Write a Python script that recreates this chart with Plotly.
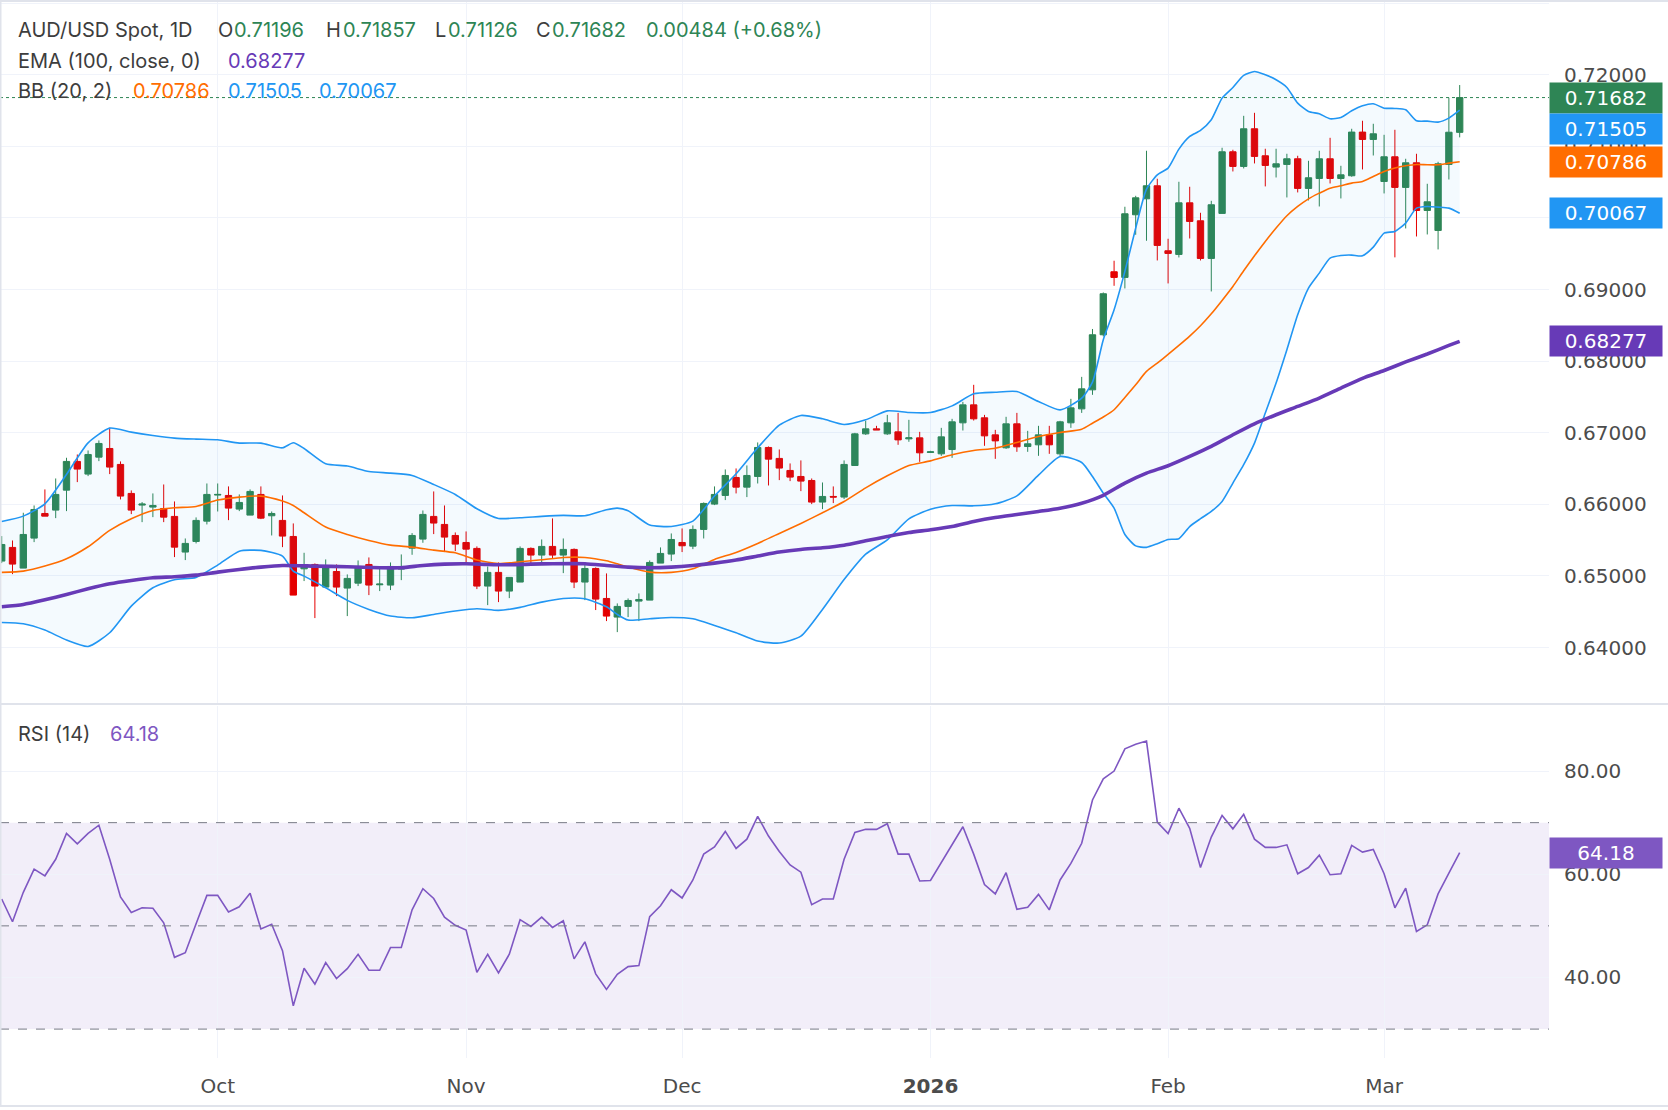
import plotly.graph_objects as go
import pandas as pd

# ---------------- data ----------------
start_date = "2025-09-03"
n_bars = 136
dates = [d.strftime("%Y-%m-%d") for d in pd.bdate_range(start_date, periods=n_bars)]

open_ = [0.65208, 0.65399, 0.65110, 0.65529, 0.65873, 0.65920, 0.66199, 0.66600, 0.66423, 0.66660,
         0.66781, 0.66558, 0.66153, 0.65990, 0.65962, 0.65943, 0.65832, 0.65334, 0.65482, 0.65766,
         0.66130, 0.66125, 0.65934, 0.65850, 0.66139, 0.65841, 0.65776, 0.65552, 0.65100, 0.65161,
         0.64845, 0.65063, 0.64831, 0.64900, 0.65161, 0.64877, 0.64873, 0.65096, 0.65389, 0.65515,
         0.65832, 0.65720, 0.65566, 0.65468, 0.65385, 0.64859, 0.65050, 0.64789, 0.64915, 0.65385,
         0.65292, 0.65413, 0.65292, 0.65371, 0.64915, 0.65105, 0.64686, 0.64426, 0.64575, 0.64649,
         0.64663, 0.65180, 0.65306, 0.65468, 0.65417, 0.65650, 0.66004, 0.66125, 0.66376, 0.66241,
         0.66390, 0.66795, 0.66642, 0.66474, 0.66390, 0.66334, 0.66032, 0.66111, 0.66102, 0.66543,
         0.66985, 0.67055, 0.66985, 0.67013, 0.66915, 0.66929, 0.66725, 0.66706, 0.66766, 0.67139,
         0.67390, 0.67209, 0.66971, 0.66790, 0.67125, 0.66808, 0.66832, 0.66971, 0.66706, 0.67139,
         0.67334, 0.67600, 0.68369, 0.69249, 0.69170, 0.70045, 0.70268, 0.70450, 0.69542, 0.69491,
         0.70212, 0.69961, 0.69435, 0.70064, 0.70925, 0.70720, 0.71246, 0.70869, 0.70711, 0.70748,
         0.70827, 0.70413, 0.70552, 0.70827, 0.70552, 0.70590, 0.71200, 0.71097, 0.70510, 0.70855,
         0.70427, 0.70771, 0.70105, 0.69826, 0.70748, 0.71196]
high = [0.65557, 0.65496, 0.65883, 0.65985, 0.66209, 0.66362, 0.66651, 0.66697, 0.66753, 0.66893,
        0.67070, 0.66600, 0.66195, 0.66032, 0.66153, 0.66278, 0.66041, 0.65524, 0.65818, 0.66292,
        0.66292, 0.66251, 0.66139, 0.66209, 0.66251, 0.65901, 0.66125, 0.65734, 0.65324, 0.65175,
        0.65231, 0.65161, 0.65022, 0.65217, 0.65259, 0.65119, 0.65189, 0.65301, 0.65599, 0.65915,
        0.66181, 0.65985, 0.65608, 0.65622, 0.65413, 0.65133, 0.65189, 0.64980, 0.65413, 0.65399,
        0.65510, 0.65804, 0.65524, 0.65385, 0.65189, 0.65120, 0.65036, 0.64617, 0.64686, 0.64756,
        0.65217, 0.65399, 0.65594, 0.65664, 0.65706, 0.66027, 0.66251, 0.66488, 0.66502, 0.66544,
        0.66865, 0.66809, 0.66767, 0.66572, 0.66614, 0.66362, 0.66306, 0.66251, 0.66614, 0.66999,
        0.67167, 0.67097, 0.67250, 0.67278, 0.67181, 0.67013, 0.66748, 0.67069, 0.67195, 0.67432,
        0.67670, 0.67250, 0.67041, 0.67223, 0.67278, 0.67027, 0.67097, 0.67097, 0.67167, 0.67474,
        0.67781, 0.68450, 0.68960, 0.69403, 0.70157, 0.70310, 0.70939, 0.70548, 0.69710, 0.70506,
        0.70436, 0.70073, 0.70240, 0.70981, 0.70953, 0.71427, 0.71469, 0.70967, 0.70967, 0.70897,
        0.70869, 0.70799, 0.70939, 0.71120, 0.70729, 0.71246, 0.71358, 0.71316, 0.71162, 0.71232,
        0.70827, 0.70897, 0.70478, 0.70785, 0.71679, 0.71857]
low = [0.65180, 0.65026, 0.65110, 0.65473, 0.65836, 0.65808, 0.65906, 0.66311, 0.66395, 0.66604,
       0.66423, 0.66069, 0.65864, 0.65752, 0.65822, 0.65752, 0.65264, 0.65222, 0.65455, 0.65720,
       0.65901, 0.65780, 0.65906, 0.65850, 0.65794, 0.65566, 0.65403, 0.64733, 0.64929, 0.64412,
       0.64835, 0.64719, 0.64440, 0.64859, 0.64733, 0.64789, 0.64803, 0.64942, 0.65296, 0.65464,
       0.65585, 0.65334, 0.65347, 0.65184, 0.64817, 0.64593, 0.64635, 0.64691, 0.64915, 0.65152,
       0.65166, 0.65250, 0.65040, 0.64831, 0.64663, 0.64524, 0.64370, 0.64216, 0.64426, 0.64370,
       0.64663, 0.65180, 0.65208, 0.65334, 0.65375, 0.65524, 0.65990, 0.66060, 0.66153, 0.66102,
       0.66292, 0.66264, 0.66339, 0.66325, 0.66185, 0.66004, 0.65934, 0.66018, 0.66074, 0.66543,
       0.66971, 0.67041, 0.66971, 0.66832, 0.66874, 0.66594, 0.66720, 0.66678, 0.66650, 0.67032,
       0.67171, 0.66818, 0.66636, 0.66776, 0.66734, 0.66734, 0.66678, 0.66706, 0.66664, 0.67069,
       0.67278, 0.67530, 0.68346, 0.69053, 0.69016, 0.69766, 0.69682, 0.69407, 0.69086, 0.69449,
       0.69714, 0.69407, 0.68974, 0.70064, 0.70650, 0.70692, 0.70762, 0.70441, 0.70566, 0.70287,
       0.70357, 0.70245, 0.70161, 0.70482, 0.70273, 0.70576, 0.70678, 0.70873, 0.70343, 0.69450,
       0.69854, 0.69742, 0.69770, 0.69561, 0.70538, 0.71126]
close = [0.65440, 0.65166, 0.65580, 0.65929, 0.65836, 0.66139, 0.66600, 0.66493, 0.66697, 0.66851,
         0.66521, 0.66116, 0.65920, 0.66004, 0.65985, 0.65822, 0.65403, 0.65455, 0.65776, 0.66139,
         0.66139, 0.65948, 0.66027, 0.66181, 0.65808, 0.65873, 0.65557, 0.64733, 0.65152, 0.64859,
         0.65115, 0.64845, 0.64966, 0.65133, 0.64873, 0.64887, 0.65133, 0.65133, 0.65566, 0.65860,
         0.65739, 0.65543, 0.65445, 0.65375, 0.64859, 0.65050, 0.64789, 0.64980, 0.65385, 0.65292,
         0.65413, 0.65292, 0.65371, 0.64915, 0.65105, 0.64677, 0.64440, 0.64575, 0.64658, 0.64672,
         0.65189, 0.65315, 0.65510, 0.65422, 0.65650, 0.66013, 0.66139, 0.66404, 0.66241, 0.66404,
         0.66795, 0.66632, 0.66507, 0.66381, 0.66325, 0.66032, 0.66111, 0.66102, 0.66558, 0.66985,
         0.67055, 0.67041, 0.67139, 0.66901, 0.66929, 0.66720, 0.66734, 0.66943, 0.67153, 0.67390,
         0.67195, 0.66957, 0.66887, 0.67125, 0.66804, 0.66846, 0.66971, 0.66832, 0.67153, 0.67348,
         0.67614, 0.68369, 0.68942, 0.69170, 0.70059, 0.70282, 0.70450, 0.69617, 0.69505, 0.70212,
         0.69952, 0.69435, 0.70185, 0.70925, 0.70720, 0.71246, 0.70860, 0.70734, 0.70757, 0.70827,
         0.70413, 0.70562, 0.70827, 0.70552, 0.70603, 0.71200, 0.71097, 0.71176, 0.70855, 0.70427,
         0.70771, 0.70105, 0.70226, 0.70757, 0.71198, 0.71682]

rsi = [55.2, 50.8, 56.5, 61.0, 59.7, 62.9, 67.9, 65.9, 67.9, 69.5,
       62.9, 55.6, 52.6, 53.5, 53.4, 50.6, 43.9, 44.8, 50.4, 55.9,
       55.9, 52.7, 53.7, 56.3, 49.4, 50.3, 45.2, 34.5, 41.8, 38.7,
       42.9, 39.8, 41.7, 44.5, 41.4, 41.4, 45.8, 45.8, 53.1, 57.2,
       55.3, 51.7, 50.1, 49.2, 41.0, 44.5, 40.9, 44.5, 51.2, 49.9,
       51.7, 49.7, 51.0, 43.6, 46.9, 40.7, 37.7, 40.6, 42.1, 42.3,
       51.8, 53.9, 57.0, 55.4, 58.9, 63.9, 65.3, 68.3, 65.0, 66.8,
       71.2, 67.4, 64.4, 61.8, 60.4, 54.1, 55.2, 55.2, 62.9, 68.1,
       68.7, 68.7, 69.8, 63.9, 63.9, 58.7, 58.8, 62.3, 65.7, 69.2,
       63.9, 58.0, 56.2, 60.3, 53.2, 53.6, 56.1, 53.1, 58.9, 62.1,
       66.0, 74.4, 78.5, 80.0, 84.3, 85.2, 85.8, 70.1, 67.9, 72.8,
       68.9, 61.3, 67.2, 71.4, 68.8, 71.6, 66.8, 65.2, 65.2, 65.7,
       60.1, 61.3, 63.7, 59.9, 60.1, 65.6, 64.3, 64.8, 60.1, 53.5,
       57.3, 48.9, 50.2, 56.2, 60.2, 64.18]

# Bollinger bands (20, 2) read at these bar numbers (1 = first bar)
bb_bars = [1, 3, 5, 7, 9, 11, 13, 15, 17, 19, 21, 23, 25, 27, 28, 29, 31, 33, 35, 37,
           39, 41, 43, 45, 47, 49, 51, 53, 55, 57, 58, 59, 61, 63, 65, 67, 69, 71, 73, 75,
           77, 79, 81, 83, 85, 87, 89, 91, 93, 95, 97, 99, 101, 102, 103, 104, 105, 106, 107, 108,
           109, 110, 111, 112, 113, 114, 115, 116, 117, 118, 119, 120, 121, 122, 123, 124, 125, 126, 127, 128,
           129, 130, 131, 132, 133, 134, 135, 136]
bb_upper = [0.65762, 0.65836, 0.66008, 0.66418, 0.66860, 0.67065, 0.67009, 0.66963, 0.66926, 0.66912,
            0.66902, 0.66856, 0.66856, 0.66790, 0.66860, 0.66781, 0.66567, 0.66535, 0.66460, 0.66437,
            0.66404, 0.66278, 0.66139, 0.65939, 0.65804, 0.65813, 0.65832, 0.65846, 0.65841, 0.65925,
            0.65948, 0.65911, 0.65711, 0.65692, 0.65766, 0.66116, 0.66427, 0.66790, 0.67107, 0.67242,
            0.67196, 0.67116, 0.67181, 0.67306, 0.67283, 0.67283, 0.67376, 0.67544, 0.67567, 0.67576,
            0.67437, 0.67320, 0.67483, 0.67707, 0.68300, 0.68718, 0.69254, 0.69859, 0.70403, 0.70603,
            0.70697, 0.70962, 0.71139, 0.71223, 0.71372, 0.71674, 0.71823, 0.71991, 0.72047, 0.72000,
            0.71930, 0.71823, 0.71604, 0.71488, 0.71455, 0.71386, 0.71404, 0.71497, 0.71567, 0.71595,
            0.71534, 0.71530, 0.71511, 0.71358, 0.71353, 0.71339, 0.71395, 0.71505]
bb_lower = [0.64351, 0.64333, 0.64244, 0.64105, 0.64016, 0.64207, 0.64579, 0.64835, 0.64947, 0.64980,
            0.65152, 0.65347, 0.65357, 0.65278, 0.65068, 0.64998, 0.64835, 0.64659, 0.64533, 0.64440,
            0.64416, 0.64463, 0.64510, 0.64542, 0.64519, 0.64561, 0.64635, 0.64686, 0.64682, 0.64570,
            0.64463, 0.64384, 0.64402, 0.64421, 0.64402, 0.64309, 0.64207, 0.64091, 0.64063, 0.64160,
            0.64533, 0.64950, 0.65305, 0.65505, 0.65798, 0.65933, 0.65984, 0.65980, 0.66008, 0.66119,
            0.66408, 0.66669, 0.66585, 0.66389, 0.66157, 0.65947, 0.65580, 0.65420, 0.65400, 0.65450,
            0.65510, 0.65520, 0.65690, 0.65800, 0.65902, 0.66042, 0.66298, 0.66554, 0.66856, 0.67275,
            0.67694, 0.68160, 0.68648, 0.69021, 0.69230, 0.69440, 0.69477, 0.69482, 0.69472, 0.69593,
            0.69789, 0.69812, 0.69929, 0.70138, 0.70161, 0.70152, 0.70138, 0.70067]
bb_mid = [0.65050, 0.65068, 0.65138, 0.65240, 0.65408, 0.65636, 0.65799, 0.65915, 0.65953, 0.65971,
          0.66060, 0.66102, 0.66116, 0.66046, 0.65985, 0.65883, 0.65683, 0.65580, 0.65496, 0.65431,
          0.65403, 0.65361, 0.65324, 0.65222, 0.65175, 0.65199, 0.65226, 0.65259, 0.65259, 0.65212,
          0.65170, 0.65124, 0.65054, 0.65050, 0.65101, 0.65231, 0.65329, 0.65455, 0.65594, 0.65734,
          0.65883, 0.66040, 0.66231, 0.66399, 0.66543, 0.66608, 0.66692, 0.66752, 0.66785, 0.66864,
          0.66948, 0.67004, 0.67050, 0.67134, 0.67220, 0.67322, 0.67494, 0.67671, 0.67857, 0.67973,
          0.68094, 0.68220, 0.68350, 0.68495, 0.68662, 0.68849, 0.69044, 0.69263, 0.69472, 0.69672,
          0.69859, 0.70031, 0.70161, 0.70268, 0.70347, 0.70417, 0.70450, 0.70487, 0.70510, 0.70580,
          0.70650, 0.70697, 0.70729, 0.70748, 0.70743, 0.70743, 0.70766, 0.70786]

# EMA (100) read at these bar numbers
ema_bars = [1, 3, 5, 7, 9, 11, 13, 15, 17, 19, 21, 23, 25, 27, 30, 33, 36, 38, 40, 42,
            44, 46, 48, 50, 52, 55, 57, 59, 61, 63, 65, 67, 69, 71, 73, 75, 77, 79, 81, 83,
            85, 87, 89, 91, 93, 95, 97, 99, 101, 103, 105, 107, 109, 111, 113, 115, 117, 119, 121, 123,
            125, 127, 129, 131, 133, 135, 136]
ema = [0.64570, 0.64603, 0.64668, 0.64742, 0.64821, 0.64891, 0.64938, 0.64975, 0.64989, 0.65012,
       0.65054, 0.65091, 0.65124, 0.65147, 0.65138, 0.65129, 0.65115, 0.65115, 0.65147, 0.65166,
       0.65171, 0.65161, 0.65157, 0.65166, 0.65171, 0.65171, 0.65147, 0.65124, 0.65115, 0.65124,
       0.65147, 0.65180, 0.65222, 0.65278, 0.65334, 0.65371, 0.65394, 0.65430, 0.65491, 0.65551,
       0.65607, 0.65645, 0.65691, 0.65761, 0.65817, 0.65859, 0.65901, 0.65947, 0.66017, 0.66127,
       0.66298, 0.66437, 0.66540, 0.66670, 0.66810, 0.66973, 0.67126, 0.67252, 0.67368, 0.67485,
       0.67624, 0.67760, 0.67870, 0.67990, 0.68100, 0.68220, 0.68277]

price_ticks = [0.64, 0.65, 0.66, 0.67, 0.68, 0.69, 0.70, 0.71, 0.72, 0.73]
rsi_ticks = [40, 60, 80]
month_names = {"01": "<b>2026</b>", "02": "Feb", "03": "Mar", "10": "Oct", "11": "Nov", "12": "Dec"}

# ---------------- styling / layout constants ----------------
W, H = 1668, 1110
GREEN = "#2e8555"
RED = "#e50000"
BLUE = "#2196f3"
ORANGE = "#ff6d00"
PURPLE = "#673ab7"
RSI_C = "#7e57c2"
GRID = "#f0f3fa"
TXT = "#3d3d3d"
AX_TXT = "#4c4c4c"
plot_right = 1549 / W
price_dom = [1 - 704 / H, 1.0]
rsi_dom = [1 - 1058 / H, 1 - 706 / H]
x_range = [-0.157, 143.27]

month_idx = [i for i in range(1, n_bars) if dates[i][5:7] != dates[i - 1][5:7]]
tick_vals = [dates[i] for i in month_idx]
tick_text = [month_names[dates[i][5:7]] for i in month_idx]

bb_x = [dates[b - 1] for b in bb_bars]
ema_x = [dates[b - 1] for b in ema_bars]

fig = go.Figure()

fig.add_trace(go.Scatter(x=bb_x, y=bb_lower, mode="lines", line=dict(color=BLUE, width=1.6, shape="spline", smoothing=0.6),
                         xaxis="x", yaxis="y", showlegend=False, hoverinfo="skip"))
fig.add_trace(go.Scatter(x=bb_x, y=bb_upper, mode="lines", line=dict(color=BLUE, width=1.6, shape="spline", smoothing=0.6),
                         fill="tonexty", fillcolor="rgba(33,150,243,0.05)",
                         xaxis="x", yaxis="y", showlegend=False, hoverinfo="skip"))
fig.add_trace(go.Scatter(x=bb_x, y=bb_mid, mode="lines", line=dict(color=ORANGE, width=1.6, shape="spline", smoothing=0.6),
                         xaxis="x", yaxis="y", showlegend=False, hoverinfo="skip"))
fig.add_trace(go.Scatter(x=ema_x, y=ema, mode="lines", line=dict(color=PURPLE, width=3.6, shape="spline", smoothing=0.6),
                         xaxis="x", yaxis="y", showlegend=False, hoverinfo="skip"))
fig.add_trace(go.Candlestick(x=dates, open=open_, high=high, low=low, close=close,
                             increasing=dict(line=dict(color=GREEN, width=1), fillcolor=GREEN),
                             decreasing=dict(line=dict(color=RED, width=1), fillcolor=RED),
                             whiskerwidth=0, xaxis="x", yaxis="y", showlegend=False))
fig.add_trace(go.Scatter(x=dates, y=rsi, mode="lines", line=dict(color=RSI_C, width=1.6),
                         xaxis="x2", yaxis="y2", showlegend=False))

shapes = [
    # RSI band and levels
    dict(type="rect", xref="paper", yref="y2", x0=0, x1=plot_right, y0=30, y1=70,
         fillcolor="rgba(126,87,194,0.1)", line=dict(width=0), layer="below"),
    dict(type="line", xref="paper", yref="y2", x0=0, x1=plot_right, y0=70, y1=70,
         line=dict(color="#787b86", width=1, dash="dash")),
    dict(type="line", xref="paper", yref="y2", x0=0, x1=plot_right, y0=50, y1=50,
         line=dict(color="#787b86", width=1, dash="dash")),
    dict(type="line", xref="paper", yref="y2", x0=0, x1=plot_right, y0=30, y1=30,
         line=dict(color="#787b86", width=1, dash="dash")),
    # last close dotted line
    dict(type="line", xref="paper", yref="y", x0=0, x1=plot_right, y0=close[-1], y1=close[-1],
         line=dict(color=GREEN, width=1, dash="dot")),
    # panel separator and frame
    dict(type="line", xref="paper", yref="paper", x0=0, x1=1, y0=price_dom[0], y1=price_dom[0],
         line=dict(color="#e0e3eb", width=2)),
    dict(type="line", xref="paper", yref="paper", x0=0, x1=1, y0=1 - 1106 / H, y1=1 - 1106 / H,
         line=dict(color="#e0e3eb", width=2)),
    dict(type="line", xref="paper", yref="paper", x0=0, x1=1, y0=1 - 1 / H, y1=1 - 1 / H,
         line=dict(color="#e0e3eb", width=2)),
    dict(type="line", xref="paper", yref="paper", x0=0.5 / W, x1=0.5 / W, y0=1 - 1106 / H, y1=1,
         line=dict(color="#e0e3eb", width=2)),
]

HFONT = "Inter"


def txt(x_px, y_px, s, color, size=20):
    return dict(xref="paper", yref="paper", x=x_px / W, y=1 - y_px / H, text=s, showarrow=False,
                xanchor="left", yanchor="middle", font=dict(family=HFONT, size=size, color=color))


chg = close[-1] - close[-2]
pct = chg / close[-2] * 100
annotations = [
    txt(16, 30, "AUD/USD Spot, 1D", TXT),
    txt(216, 30, "O", TXT), txt(232, 30, f"{open_[-1]:.5f}", GREEN),
    txt(324, 30, "H", TXT), txt(341, 30, f"{high[-1]:.5f}", GREEN),
    txt(433, 30, "L", TXT), txt(446, 30, f"{low[-1]:.5f}", GREEN),
    txt(534, 30, "C", TXT), txt(550, 30, f"{close[-1]:.5f}", GREEN),
    txt(644, 30, f"{chg:.5f} ({pct:+.2f}%)", GREEN),
    txt(16, 61, "EMA (100, close, 0)", TXT), txt(226, 61, f"{ema[-1]:.5f}", PURPLE),
    txt(16, 91, "BB (20, 2)", TXT), txt(131, 91, f"{bb_mid[-1]:.5f}", ORANGE),
    txt(226, 91, f"{bb_upper[-1]:.5f}", BLUE), txt(317, 91, f"{bb_lower[-1]:.5f}", BLUE),
    txt(16, 734, "RSI (14)", TXT), txt(108, 734, f"{rsi[-1]:.2f}", RSI_C),
]

badges = [
    (close[-1], GREEN, 0, "y", 5),
    (bb_upper[-1], BLUE, -18.5, "y", 5),
    (bb_mid[-1], ORANGE, 0, "y", 5),
    (bb_lower[-1], BLUE, 0, "y", 5),
    (ema[-1], PURPLE, 0, "y", 5),
    (rsi[-1], RSI_C, 0, "y2", 2),
]
for val, col, shift, yref, dec in badges:
    annotations.append(dict(xref="paper", yref=yref, x=plot_right, y=val, yshift=shift,
                            text=f"{val:.{dec}f}", showarrow=False, xanchor="left", yanchor="middle",
                            bgcolor=col, borderpad=3, width=106, align="center",
                            font=dict(family="DejaVu Sans", size=20, color="white")))

axis_font = dict(family="DejaVu Sans", size=20, color=AX_TXT)

fig.update_layout(
    width=W, height=H,
    margin=dict(l=0, r=0, t=0, b=0),
    paper_bgcolor="white", plot_bgcolor="white",
    boxgap=0.16,
    showlegend=False,
    shapes=shapes,
    annotations=annotations,
    xaxis=dict(domain=[0, plot_right], anchor="y", type="category", range=x_range,
               categoryorder="array", categoryarray=dates,
               tickvals=tick_vals, ticktext=tick_text, showticklabels=False,
               showgrid=True, gridcolor=GRID, gridwidth=1, zeroline=False, showline=False,
               rangeslider=dict(visible=False), fixedrange=True),
    yaxis=dict(domain=price_dom, anchor="x", side="right", range=[0.63212, 0.730447],
               tickvals=price_ticks, ticktext=[f"{v:.5f}" for v in price_ticks],
               tickfont=axis_font, ticklabelstandoff=14,
               showgrid=True, gridcolor=GRID, zeroline=False, showline=False, fixedrange=True),
    xaxis2=dict(domain=[0, plot_right], anchor="y2", type="category", range=x_range,
                categoryorder="array", categoryarray=dates,
                tickvals=tick_vals, ticktext=tick_text, tickfont=axis_font, ticklabelstandoff=14,
                showgrid=True, gridcolor=GRID, zeroline=False, showline=False, fixedrange=True),
    yaxis2=dict(domain=rsi_dom, anchor="x2", side="right", range=[24.4, 92.6],
                tickvals=rsi_ticks, ticktext=[f"{v:.2f}" for v in rsi_ticks],
                tickfont=axis_font, ticklabelstandoff=14,
                showgrid=True, gridcolor=GRID, zeroline=False, showline=False, fixedrange=True),
)

fig.write_html("out.html")
